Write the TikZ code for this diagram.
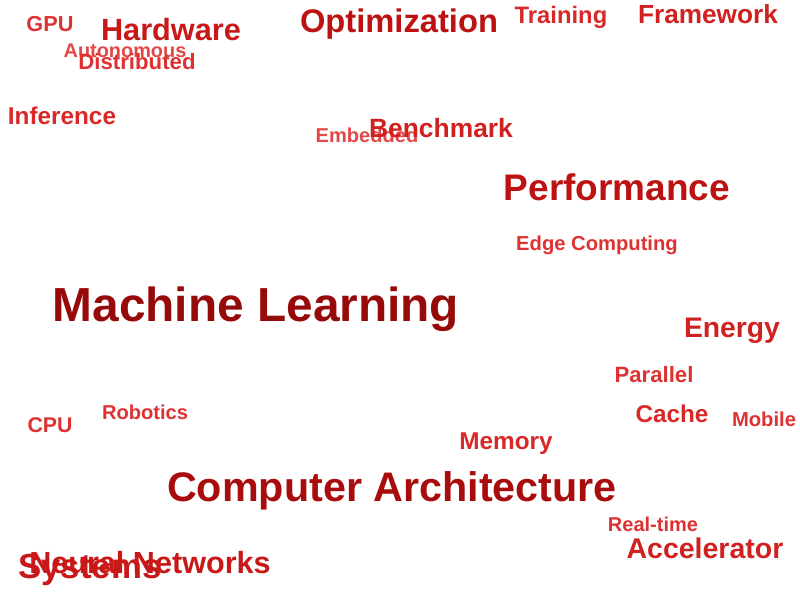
\documentclass[tikz,border=0pt]{standalone}
\usepackage{fontspec}
\setmainfont{Liberation Sans}
\usepackage{tikz}
\definecolor{redA}{HTML}{960A0A}
\definecolor{redB}{HTML}{A80C0C}
\definecolor{redC}{HTML}{BC1212}
\definecolor{redD}{HTML}{C81818}
\definecolor{redE}{HTML}{D02020}
\definecolor{redF}{HTML}{D82828}
\definecolor{redG}{HTML}{DE3232}
\definecolor{redH}{HTML}{E24848}
\tikzset{word/.style 2 args={text=#1, inner sep=0pt, anchor=center,
    font=\bfseries\fontsize{#2}{#2}\selectfont, text height={0.716*#2}, text depth=0pt}}

\begin{document}
\begin{tikzpicture}[x=1pt, y=-1pt]
      \useasboundingbox (0,0) rectangle (800,600);
      \node[word={redA}{47.8}] (ml) at (256, 304) {Machine Learning};
      \node[word={redB}{41.3}] (arch) at (392, 487) {Computer Architecture};
      \node[word={redC}{37}] (perf) at (617, 187) {Performance};
      \node[word={redC}{32.7}] (opt) at (399, 21) {Optimization};
      \node[word={redD}{34.8}] (sys) at (90, 566) {Systems};
      \node[word={redD}{30.7}] (hw) at (171, 30) {Hardware};
      \node[word={redD}{30.6}] (nn) at (150, 563) {Neural Networks};
      \node[word={redE}{28.5}] (acc) at (705, 548) {Accelerator};
      \node[word={redE}{28.3}] (energy) at (732, 327) {Energy};
      \node[word={redE}{26.2}] (fw) at (708, 14) {Framework};
      \node[word={redH}{20.1}] (emb) at (367, 135) {Embedded};
      \node[word={redE}{26.4}] (bench) at (441, 128) {Benchmark};
      \node[word={redF}{24.3}] (inf) at (62, 116) {Inference};
      \node[word={redF}{23.8}] (train) at (561, 15) {Training};
      \node[word={redF}{24.3}] (cache) at (672, 414) {Cache};
      \node[word={redF}{24.3}] (mem) at (506, 441) {Memory};
      \node[word={redH}{19.9}] (auto) at (125, 50) {Autonomous};
      \node[word={redG}{22.2}] (dist) at (137, 62) {Distributed};
      \node[word={redG}{22.2}] (par) at (654, 375) {Parallel};
      \node[word={redG}{21.7}] (gpu) at (50, 24) {GPU};
      \node[word={redG}{21.3}] (cpu) at (50, 425) {CPU};
      \node[word={redG}{20.2}] (edge) at (597, 243) {Edge Computing};
      \node[word={redG}{20.2}] (mob) at (764, 419) {Mobile};
      \node[word={redG}{20.1}] (robo) at (145, 412) {Robotics};
      \node[word={redG}{20}] (rt) at (653, 524) {Real-time};
\end{tikzpicture}
\end{document}
